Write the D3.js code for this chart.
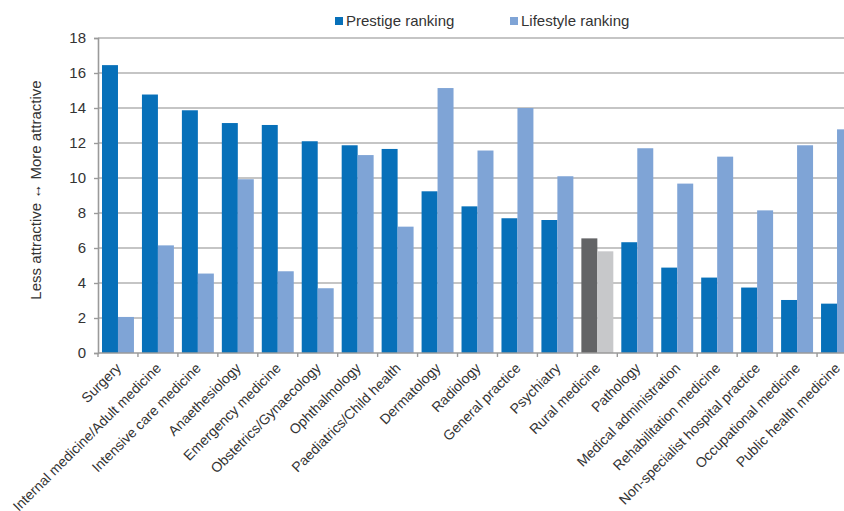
<!DOCTYPE html>
<html>
<head>
<meta charset="utf-8">
<script src="https://cdn.jsdelivr.net/npm/d3@7"></script>
<style>
  html, body { margin: 0; padding: 0; background: #fff; }
  svg { display: block; font-family: "Liberation Sans", Arial, sans-serif; }
</style>
</head>
<body>
<svg id="chart" width="844" height="511"></svg>
<script>
// Specialties, ordered by prestige ranking
const categories = [
  "Surgery", "Internal medicine/Adult medicine", "Intensive care medicine",
  "Anaethesiology", "Emergency medicine", "Obstetrics/Gynaecology",
  "Ophthalmology", "Paediatrics/Child health", "Dermatology", "Radiology",
  "General practice", "Psychiatry", "Rural medicine", "Pathology",
  "Medical administration", "Rehabilitation medicine",
  "Non-specialist hospital practice", "Occupational medicine",
  "Public health medicine"
];
const prestige = [16.45, 14.77, 13.87, 13.14, 13.03, 12.1, 11.87, 11.66, 9.24, 8.38,
                  7.7, 7.6, 6.55, 6.33, 4.88, 4.31, 3.74, 3.03, 2.82];
const lifestyle = [2.06, 6.15, 4.54, 9.93, 4.67, 3.7, 11.31, 7.22, 15.14, 11.57,
                   14.0, 10.1, 5.81, 11.7, 9.68, 11.22, 8.15, 11.87, 12.78];
const seriesNames = ["Prestige ranking", "Lifestyle ranking"];
const yTicks = [0, 2, 4, 6, 8, 10, 12, 14, 16, 18];
const highlighted = "Rural medicine";

const colors = {
  "Prestige ranking": "#0770b9",
  "Lifestyle ranking": "#7fa4d6"
};
const highlightColors = {
  "Prestige ranking": "#636466",
  "Lifestyle ranking": "#c7c8ca"
};

const svg = d3.select("#chart");
const mLeft = 98, mTop = 38, mBottom = 353, mRight = 857;

const x = d3.scaleBand().domain(categories).range([mLeft, mRight])
  .paddingInner(0.2).paddingOuter(0.1);
const xs = d3.scaleBand().domain(seriesNames).range([0, x.bandwidth()]);
const y = d3.scaleLinear().domain([0, 18]).range([mBottom, mTop]);

// gridlines
svg.append("g").selectAll("line").data(yTicks.filter(d => d > 0)).join("line")
  .attr("x1", mLeft).attr("x2", 844)
  .attr("y1", d => y(d)).attr("y2", d => y(d))
  .attr("stroke", "#b2b2b2").attr("stroke-width", 1.6);

// bars
const rows = categories.map((c, i) => ({ c, vals: [prestige[i], lifestyle[i]] }));
const groups = svg.append("g").selectAll("g").data(rows).join("g")
  .attr("transform", d => `translate(${x(d.c)},0)`);
groups.selectAll("rect").data(d => seriesNames.map((s, j) => ({ s, v: d.vals[j], c: d.c })))
  .join("rect")
  .attr("x", d => xs(d.s)).attr("width", xs.bandwidth())
  .attr("y", d => y(d.v)).attr("height", d => y(0) - y(d.v))
  .attr("fill", d => d.c === highlighted ? highlightColors[d.s] : colors[d.s]);

// y axis
const yAxis = svg.append("g").attr("transform", `translate(${mLeft},0)`)
  .call(d3.axisLeft(y).tickValues(yTicks).tickSize(4).tickPadding(8).tickFormat(d3.format("d")));
yAxis.select(".domain").attr("stroke", "#9a9a9a").attr("stroke-width", 1.6);
yAxis.selectAll(".tick line").attr("stroke", "#9a9a9a").attr("stroke-width", 1.4);
yAxis.selectAll("text").attr("font-size", 15).attr("fill", "#333");

// x axis: boundary ticks between categories
const xAxisG = svg.append("g");
xAxisG.append("line").attr("x1", mLeft).attr("x2", 844)
  .attr("y1", mBottom).attr("y2", mBottom).attr("stroke", "#9a9a9a").attr("stroke-width", 1.6);
const boundaries = categories.map(c => x(c) - x.step() * x.paddingInner() / 2);
xAxisG.selectAll("line.tk").data(boundaries).join("line").attr("class", "tk")
  .attr("x1", d => d).attr("x2", d => d)
  .attr("y1", mBottom).attr("y2", mBottom + 4)
  .attr("stroke", "#9a9a9a").attr("stroke-width", 1.4);

xAxisG.selectAll("text").data(categories).join("text")
  .attr("transform", d => `translate(${x(d) + x.bandwidth() / 2 + 4},${mBottom + 16}) rotate(-45)`)
  .attr("text-anchor", "end")
  .attr("font-size", 14).attr("fill", "#333")
  .text(d => d);

// y axis title
svg.append("text")
  .attr("transform", `translate(41,190) rotate(-90)`)
  .attr("text-anchor", "middle").attr("font-size", 15).attr("fill", "#333")
  .text("Less attractive  \u2194  More attractive");

// legend
const legendX = [335, 510];
const leg = svg.append("g").selectAll("g").data(seriesNames).join("g")
  .attr("transform", (d, i) => `translate(${legendX[i]},17)`);
leg.append("rect").attr("width", 8).attr("height", 8).attr("fill", d => colors[d]);
leg.append("text").attr("x", 11).attr("y", 8.5).attr("font-size", 15).attr("fill", "#333")
  .text(d => d);
</script>
</body>
</html>
